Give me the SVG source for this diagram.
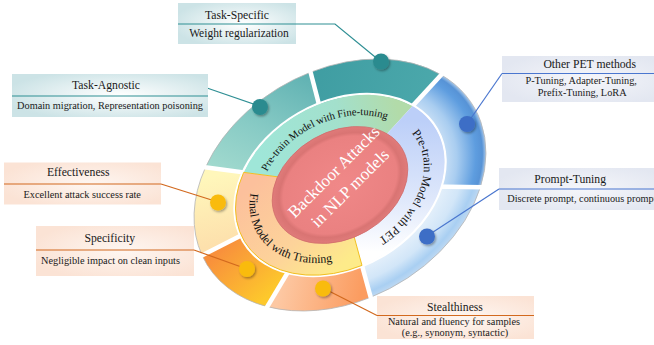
<svg xmlns="http://www.w3.org/2000/svg" width="654" height="345" viewBox="0 0 654 345">
<defs>
<style>
.t{font-family:"Liberation Serif","Times New Roman",serif;fill:#1a1a1a;text-anchor:middle}
.ti{font-size:11.7px}
.de{font-size:10.3px}
.rl{font-family:"Liberation Serif","Times New Roman",serif;fill:#111;font-size:11.5px}
.seg{stroke:#b4b4b4;stroke-width:0.8}
.gap{stroke:#ffffff;stroke-width:4.5;fill:none}
.ct{stroke:#2f8f94;stroke-width:1.2;fill:none}
.cb{stroke:#4a76cf;stroke-width:1.2;fill:none}
.co{stroke:#d2691e;stroke-width:1.2;fill:none}
</style>
<radialGradient id="bxT" cx="0.55" cy="0.5" r="0.6"><stop offset="0" stop-color="#ffffff"/><stop offset="1" stop-color="#cce3e6"/></radialGradient>
<radialGradient id="bxO" cx="0.55" cy="0.5" r="0.6"><stop offset="0" stop-color="#fef6f1"/><stop offset="1" stop-color="#fbe3d5"/></radialGradient>
<radialGradient id="bxB" cx="0.55" cy="0.5" r="0.6"><stop offset="0" stop-color="#f5f6fa"/><stop offset="1" stop-color="#e3e7f1"/></radialGradient>
<linearGradient id="gTL" gradientUnits="userSpaceOnUse" x1="-110" y1="-80" x2="30" y2="-150"><stop offset="0" stop-color="#a9ded1"/><stop offset="0.5" stop-color="#88cbc5"/><stop offset="1" stop-color="#5fb1b2"/></linearGradient>
<linearGradient id="gTT" gradientUnits="userSpaceOnUse" x1="30" y1="-150" x2="140" y2="-60"><stop offset="0" stop-color="#3f9da2"/><stop offset="1" stop-color="#4ba8ab"/></linearGradient>
<radialGradient id="gBA" gradientUnits="userSpaceOnUse" cx="0" cy="0" r="155"><stop offset="0.64" stop-color="#e2eefa"/><stop offset="0.8" stop-color="#a9cdf0"/><stop offset="0.93" stop-color="#5e9ddf"/><stop offset="0.975" stop-color="#5793d6"/><stop offset="1" stop-color="#a8c8ea"/></radialGradient>
<radialGradient id="gBB" gradientUnits="userSpaceOnUse" cx="0" cy="0" r="155"><stop offset="0.64" stop-color="#eef5fc"/><stop offset="0.85" stop-color="#d2e6f8"/><stop offset="0.95" stop-color="#a9cff2"/><stop offset="1" stop-color="#bdd8f2"/></radialGradient>
<linearGradient id="gLO" gradientUnits="userSpaceOnUse" x1="-25" y1="125" x2="-100" y2="75"><stop offset="0" stop-color="#fb9c60"/><stop offset="1" stop-color="#fdc8a3"/></linearGradient>
<linearGradient id="gOR" gradientUnits="userSpaceOnUse" x1="-125" y1="-8" x2="-100" y2="75"><stop offset="0" stop-color="#f8903c"/><stop offset="1" stop-color="#fdc82c"/></linearGradient>
<linearGradient id="gYE" gradientUnits="userSpaceOnUse" x1="-90" y1="-90" x2="-125" y2="-8"><stop offset="0" stop-color="#fff7bb"/><stop offset="1" stop-color="#fde0ac"/></linearGradient>
<linearGradient id="gMG" gradientUnits="userSpaceOnUse" x1="-60" y1="-65" x2="85" y2="-35"><stop offset="0" stop-color="#9fe6d8"/><stop offset="0.6" stop-color="#a3e0cc"/><stop offset="1" stop-color="#b2dba9"/></linearGradient>
<linearGradient id="gMB" gradientUnits="userSpaceOnUse" x1="85" y1="-35" x2="-18" y2="90"><stop offset="0" stop-color="#bccff8"/><stop offset="0.6" stop-color="#dfe8fb"/><stop offset="1" stop-color="#ffffff"/></linearGradient>
<linearGradient id="gMP" gradientUnits="userSpaceOnUse" x1="-60" y1="-65" x2="-18" y2="90"><stop offset="0" stop-color="#fcc09c"/><stop offset="0.6" stop-color="#fdd39a"/><stop offset="1" stop-color="#fdeb8a"/></linearGradient>
<radialGradient id="gRed" gradientUnits="userSpaceOnUse" cx="0" cy="0" r="71"><stop offset="0" stop-color="#f08888"/><stop offset="0.85" stop-color="#ea8181"/><stop offset="0.91" stop-color="#d97473"/><stop offset="1" stop-color="#df7a79"/></radialGradient>
<filter id="sh" x="-50%" y="-50%" width="200%" height="200%"><feDropShadow dx="1.2" dy="1.5" stdDeviation="1" flood-color="#000" flood-opacity="0.35"/></filter>
<path id="pG" d="M267.13,171.62 A86 63.64 -30 0 1 414.48,142"/>
<path id="pB" d="M411.74,132.99 A89 65.86 -30 0 1 329.98,256.64"/>
<path id="pP" d="M250.68,193.1 A96 71.04 -30 0 0 389.42,237.25"/>
</defs>

<g id="ring" transform="translate(340,185) rotate(-30) scale(1,0.74)">
  <g id="outer-ring">
    <path id="seg-task-agnostic" class="seg" vector-effect="non-scaling-stroke" fill="url(#gTL)" d="M-107.68,-111.49 A155 155 0 0 1 30.91,-151.88 L19.94,-97.99 A100 100 0 0 0 -69.47,-71.93 Z"/>
    <path id="seg-task-specific" class="seg" vector-effect="non-scaling-stroke" fill="url(#gTT)" d="M30.91,-151.88 A155 155 0 0 1 142.68,-60.56 L92.05,-39.07 A100 100 0 0 0 19.94,-97.99 Z"/>
    <path id="seg-other-pet" class="seg" vector-effect="non-scaling-stroke" fill="url(#gBA)" d="M142.68,-60.56 A155 155 0 0 1 120.45,97.54 L77.71,62.93 A100 100 0 0 0 92.05,-39.07 Z"/>
    <path id="seg-prompt" class="seg" vector-effect="non-scaling-stroke" fill="url(#gBB)" d="M120.45,97.54 A155 155 0 0 1 -29.57,152.15 L-19.08,98.16 A100 100 0 0 0 77.71,62.93 Z"/>
    <path id="seg-stealth" class="seg" vector-effect="non-scaling-stroke" fill="url(#gLO)" d="M-29.57,152.15 A155 155 0 0 1 -123.78,93.28 L-79.86,60.18 A100 100 0 0 0 -19.08,98.16 Z"/>
    <path id="seg-specificity" class="seg" vector-effect="non-scaling-stroke" fill="url(#gOR)" d="M-123.78,93.28 A155 155 0 0 1 -154.63,-10.82 L-99.76,-6.98 A100 100 0 0 0 -79.86,60.18 Z"/>
    <path id="seg-effectiveness" class="seg" vector-effect="non-scaling-stroke" fill="url(#gYE)" d="M-154.63,-10.82 A155 155 0 0 1 -107.68,-111.49 L-69.47,-71.93 A100 100 0 0 0 -99.76,-6.98 Z"/>
  </g>
  <g id="outer-gaps">
    <line class="gap" vector-effect="non-scaling-stroke" x1="-68.08" y1="-70.49" x2="-109.76" y2="-113.65"/>
    <line class="gap" vector-effect="non-scaling-stroke" x1="19.54" y1="-96.03" x2="31.51" y2="-154.82"/>
    <line class="gap" vector-effect="non-scaling-stroke" x1="90.21" y1="-38.29" x2="145.44" y2="-61.73"/>
    <line class="gap" vector-effect="non-scaling-stroke" x1="76.16" y1="61.67" x2="122.78" y2="99.43"/>
    <line class="gap" vector-effect="non-scaling-stroke" x1="-18.70" y1="96.20" x2="-30.15" y2="155.09"/>
    <line class="gap" vector-effect="non-scaling-stroke" x1="-78.26" y1="58.98" x2="-126.18" y2="95.08"/>
    <line class="gap" vector-effect="non-scaling-stroke" x1="-97.76" y1="-6.84" x2="-157.62" y2="-11.03"/>
  </g>
  <circle cx="0" cy="0" r="112" fill="none" stroke="#ffffff" stroke-width="2.5" vector-effect="non-scaling-stroke"/>
  <g id="middle-ring">
    <path id="mid-finetuning" fill="url(#gMG)" d="M-77.11,-79.84 A111 111 0 0 1 102.18,-43.37 L65.36,-27.74 A71 71 0 0 0 -49.32,-51.07 Z"/>
    <path id="mid-pet" fill="url(#gMB)" d="M102.18,-43.37 A111 111 0 0 1 -21.18,108.96 L-13.55,69.69 A71 71 0 0 0 65.36,-27.74 Z"/>
    <path id="mid-training" fill="url(#gMP)" stroke="#f1bf22" stroke-width="1" vector-effect="non-scaling-stroke" d="M-21.18,108.96 A111 111 0 0 1 -77.11,-79.84 L-49.32,-51.07 A71 71 0 0 0 -13.55,69.69 Z"/>
  </g>
  <circle id="core" cx="0" cy="0" r="72" fill="url(#gRed)" stroke="#d06c6c" stroke-width="0.8" vector-effect="non-scaling-stroke"/>
</g>

<g id="ring-labels">
  <text class="rl" style="font-size:10.6px"><textPath href="#pG">Pre-train Model with Fine-tuning</textPath></text>
  <text class="rl" style="font-size:12px"><textPath href="#pB">Pre-train Model with PET</textPath></text>
  <text class="rl" style="font-size:12px"><textPath href="#pP">Final Model with Training</textPath></text>
</g>

<g id="core-label" transform="translate(342,180) rotate(-45)">
  <text x="0" y="-6" style="font-family:'Liberation Serif','Times New Roman',serif;font-size:17px;fill:#ffffff;text-anchor:middle">Backdoor Attacks</text>
  <text x="0" y="17" style="font-family:'Liberation Serif','Times New Roman',serif;font-size:17px;fill:#ffffff;text-anchor:middle">in NLP models</text>
</g>

<g id="connectors">
  <path class="ct" d="M207,88 L259,106"/>
  <path class="ct" d="M296,24 L335,24 L380,61"/>
  <path class="cb" d="M502,73.5 L467,124"/>
  <path class="cb" d="M499,189 L427,236"/>
  <path class="co" d="M161,184 L218,202"/>
  <path class="co" d="M194,250 L247,269"/>
  <path class="co" d="M323,288 L377,315.5"/>
</g>

<g id="dots" filter="url(#sh)">
  <circle cx="260" cy="107" r="8" fill="#2b8b8f"/>
  <circle cx="381" cy="61.5" r="8" fill="#2b8b8f"/>
  <circle cx="467" cy="124" r="8" fill="#3d6ec6"/>
  <circle cx="427" cy="236.5" r="8" fill="#3d6ec6"/>
  <circle cx="323" cy="288.5" r="8" fill="#f9bb10"/>
  <circle cx="247" cy="269" r="8" fill="#f9bb10"/>
  <circle cx="218" cy="202.5" r="8" fill="#f9bb10"/>
</g>

<g id="node-task-specific">
  <rect x="178" y="3" width="118" height="41" fill="url(#bxT)"/>
  <path class="ct" d="M178,24 H296"/>
  <text class="t ti" x="237" y="18.5">Task-Specific</text>
  <text class="t" x="239" y="37" style="font-size:11.5px">Weight regularization</text>
</g>
<g id="node-task-agnostic">
  <rect x="12" y="74" width="196" height="43" fill="url(#bxT)"/>
  <path class="ct" d="M12,96 H208"/>
  <text class="t ti" x="106" y="88.7">Task-Agnostic</text>
  <text class="t de" x="110" y="109.3">Domain migration, Representation poisoning</text>
</g>
<g id="node-other-pet">
  <rect x="502" y="56" width="152" height="46" fill="url(#bxB)"/>
  <path class="cb" d="M502,73.5 H654"/>
  <text class="t ti" x="589.7" y="68">Other PET methods</text>
  <text class="t de" x="581.2" y="84">P-Tuning, Adapter-Tuning,</text>
  <text class="t de" x="582.2" y="96.3">Prefix-Tuning, LoRA</text>
</g>
<g id="node-prompt-tuning">
  <rect x="499" y="168" width="155" height="42" fill="url(#bxB)"/>
  <path class="cb" d="M499,189 H654"/>
  <text class="t ti" x="570.2" y="182.5">Prompt-Tuning</text>
  <text class="t de" x="507.3" y="201.7" style="text-anchor:start">Discrete prompt, continuous prompt</text>
</g>
<g id="node-effectiveness">
  <rect x="4" y="162.5" width="157" height="42" fill="url(#bxO)"/>
  <path class="co" d="M4,184 H161"/>
  <text class="t ti" x="78.3" y="176">Effectiveness</text>
  <text class="t de" x="82.2" y="197.7">Excellent attack success rate</text>
</g>
<g id="node-specificity">
  <rect x="36" y="226" width="158" height="50" fill="url(#bxO)"/>
  <path class="co" d="M36,250 H194"/>
  <text class="t ti" x="109.7" y="241.7">Specificity</text>
  <text class="t de" x="110.5" y="264.3">Negligible impact on clean inputs</text>
</g>
<g id="node-stealthiness">
  <rect x="377" y="296" width="157" height="43" fill="url(#bxO)"/>
  <path class="co" d="M377,315.5 H534"/>
  <text class="t ti" x="455" y="311">Stealthiness</text>
  <text class="t de" x="454" y="325">Natural and fluency for samples</text>
  <text class="t de" x="455" y="335.7">(e.g., synonym, syntactic)</text>
</g>
</svg>
